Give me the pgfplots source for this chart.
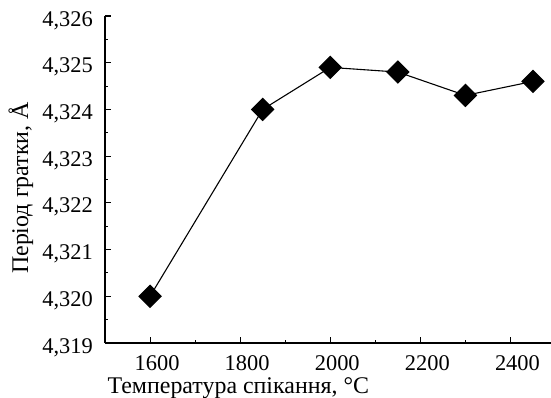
\documentclass[border=0pt]{standalone}
\usepackage{fontspec}
\setmainfont{Liberation Serif}
\usepackage{pgfplots}
\pgfplotsset{compat=1.18}
\newcommand\tickf{\fontsize{22.5}{26}\selectfont}
\newcommand\labf{\fontsize{24}{28}\selectfont}
\begin{document}
\begin{tikzpicture}
\begin{axis}[
  name=ax,
  scale only axis, width=446bp, height=327bp,
  xmin=1500, xmax=2490, ymin=4.319, ymax=4.326,
  axis x line*=bottom, axis y line*=left,
  axis line style={line width=1.1pt},
  xtick={1600,1800,2000,2200,2400}, minor x tick num=1,
  ytick={4.319,4.320,4.321,4.322,4.323,4.324,4.325,4.326}, minor y tick num=1,
  tick align=inside,
  major tick length=6bp, minor tick length=3bp,
  tick style={black, line width=1.1pt},
  tick label style={font=\tickf},
  y tick label style={anchor=base east, inner sep=0pt, xshift=-12bp, yshift=-10bp,
     /pgf/number format/.cd, fixed, fixed zerofill, precision=3, use comma, assume math mode=true},
  x tick label style={anchor=base, inner sep=0pt, xshift=7bp, yshift=-27bp,
     /pgf/number format/.cd, 1000 sep={}, assume math mode=true},
  xlabel={Температура спікання, °C},
  ylabel={Період гратки, Å},
  xlabel style={font=\labf, at={(axis description cs:0.299,0)}, anchor=base, inner sep=0pt, yshift=-50bp},
  ylabel style={font=\labf, at={(axis description cs:-0.1726,0.474)}, anchor=base, inner sep=0pt},
  clip=false,
]
\addplot[black, line width=1.1pt, mark=square*, mark size=7.8pt, mark options={rotate=45, solid, fill=black}] coordinates {
  (1600,4.3200) (1850,4.3240) (2000,4.3249) (2150,4.3248) (2300,4.3243) (2450,4.3246)
};
\end{axis}
\pgfresetboundingbox
\path[use as bounding box] ([xshift=-105bp,yshift=-55bp]ax.south west) rectangle ([yshift=16bp]ax.north east);
\end{tikzpicture}
\end{document}
